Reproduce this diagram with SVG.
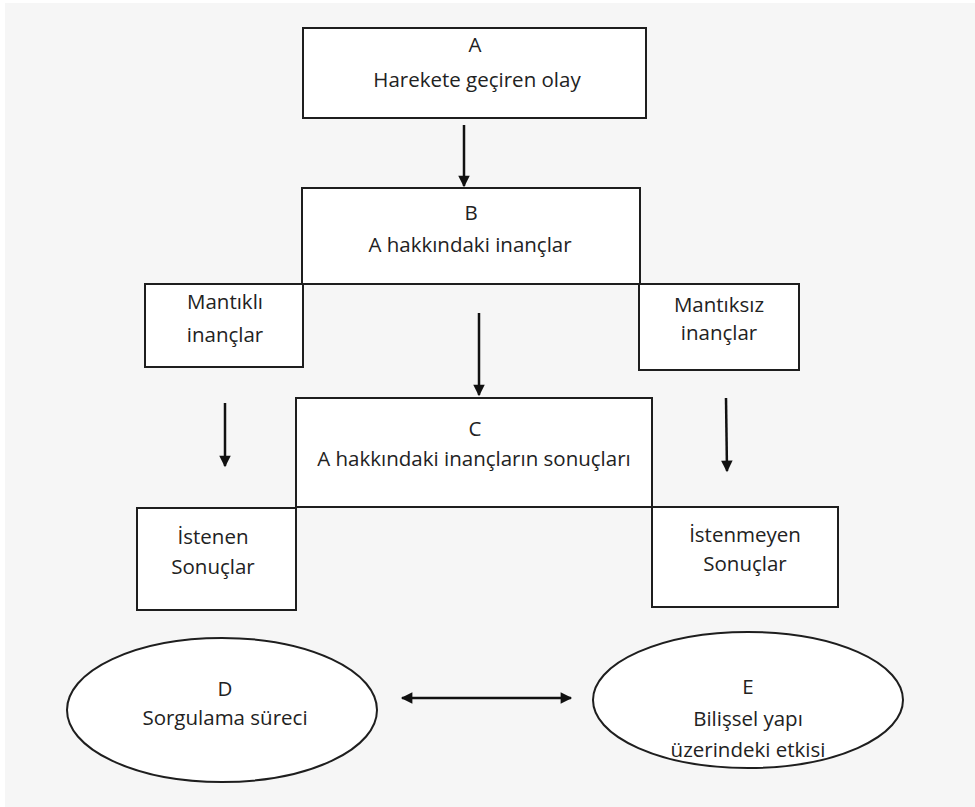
<svg xmlns="http://www.w3.org/2000/svg" width="975" height="807" viewBox="0 0 975 807">
<style>
.box{fill:#ffffff;stroke:#1e1e1e;stroke-width:2}
.t{font-family:"Open Sans","Liberation Sans",sans-serif;font-size:20.5px;fill:#222;text-anchor:middle}
.c{stroke:#111;stroke-width:2.5;fill:none}
</style>
<defs>
<marker id="ah" viewBox="0 0 10 10" refX="9" refY="5" markerWidth="5" markerHeight="4.6" orient="auto-start-reverse" markerUnits="strokeWidth">
<path d="M0,0 L10,5 L0,10 z" fill="#111"/>
</marker>
</defs>
<rect x="0" y="0" width="975" height="807" fill="#ffffff"/>
<rect x="5" y="3" width="970" height="804" fill="#f6f6f6"/>
<g id="nodeA">
<rect class="box" x="303" y="28" width="343" height="90"/>
<text class="t" x="475" y="52">A</text>
<text class="t" x="477" y="87">Harekete geçiren olay</text>
</g>
<g id="nodeMantikli">
<rect class="box" x="145" y="284" width="158" height="83"/>
<text class="t" x="225" y="309">Mantıklı</text>
<text class="t" x="225" y="342">inançlar</text>
</g>
<g id="nodeMantiksiz">
<rect class="box" x="639" y="284" width="160" height="86"/>
<text class="t" x="719" y="312">Mantıksız</text>
<text class="t" x="719" y="340">inançlar</text>
</g>
<g id="nodeB">
<rect class="box" x="302" y="188" width="338" height="96"/>
<text class="t" x="471" y="220">B</text>
<text class="t" x="470" y="252">A hakkındaki inançlar</text>
</g>
<g id="nodeIstenen">
<rect class="box" x="137" y="508" width="159" height="102"/>
<text class="t" x="213" y="544">İstenen</text>
<text class="t" x="213" y="574">Sonuçlar</text>
</g>
<g id="nodeIstenmeyen">
<rect class="box" x="652" y="507" width="186" height="100"/>
<text class="t" x="745" y="542">İstenmeyen</text>
<text class="t" x="745" y="571">Sonuçlar</text>
</g>
<g id="nodeC">
<rect class="box" x="296" y="398" width="356" height="109"/>
<text class="t" x="475" y="436">C</text>
<text class="t" x="474" y="466">A hakkındaki inançların sonuçları</text>
</g>
<g id="nodeD">
<ellipse class="box" cx="222" cy="710" rx="155" ry="72"/>
<text class="t" x="225" y="696">D</text>
<text class="t" x="225" y="725">Sorgulama süreci</text>
</g>
<g id="nodeE">
<ellipse class="box" cx="748" cy="700" rx="155" ry="68"/>
<text class="t" x="748" y="694">E</text>
<text class="t" x="748" y="726">Bilişsel yapı</text>
<text class="t" x="748" y="757">üzerindeki etkisi</text>
</g>
<g id="connectors">
<line class="c" x1="464" y1="125" x2="464" y2="186" marker-end="url(#ah)"/>
<line class="c" x1="479" y1="313" x2="479" y2="395" marker-end="url(#ah)"/>
<line class="c" x1="225" y1="403" x2="225" y2="466" marker-end="url(#ah)"/>
<line class="c" x1="726" y1="398" x2="727" y2="471" marker-end="url(#ah)"/>
<line class="c" x1="402" y1="698" x2="571" y2="698" marker-start="url(#ah)" marker-end="url(#ah)"/>
</g>
</svg>
